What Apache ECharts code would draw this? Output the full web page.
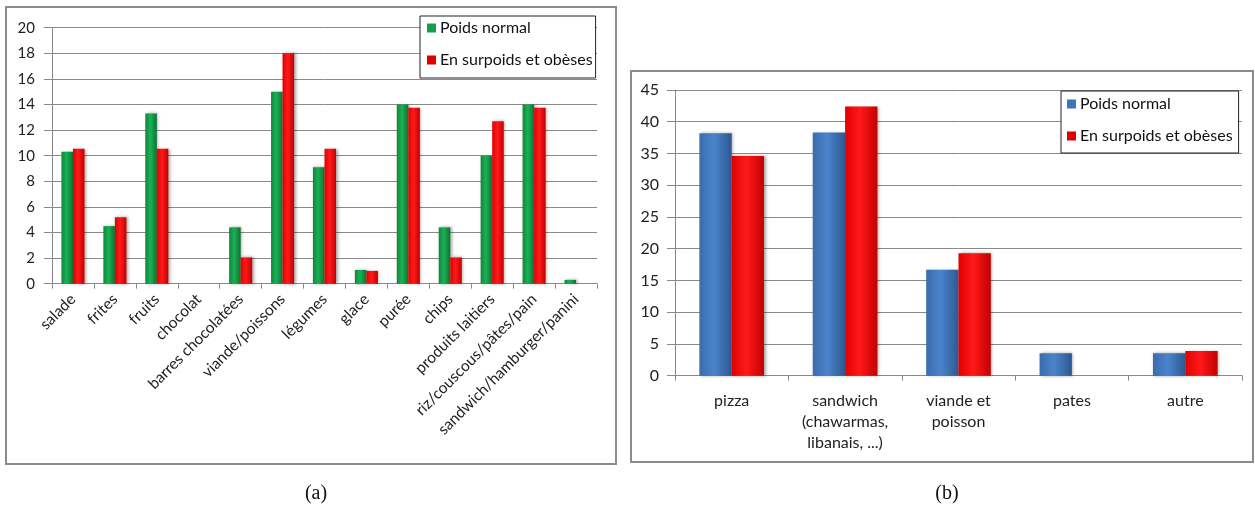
<!DOCTYPE html>
<html><head><meta charset="utf-8">
<script src="https://cdn.jsdelivr.net/npm/echarts@6/dist/echarts.min.js"></script>
<style>html,body{margin:0;padding:0;background:#fff;width:1255px;height:511px;overflow:hidden}
#a{position:absolute;left:0;top:0;width:625px;height:511px}
#b{position:absolute;left:625px;top:0;width:630px;height:511px}</style>
</head><body><div id="a"></div><div id="b"></div>
<script>
// ---- Chart (a) data ----
const catsA = ['salade','frites','fruits','chocolat','barres chocolatées','viande/poissons','légumes','glace','purée','chips','produits laitiers','riz/couscous/pâtes/pain','sandwich/hamburger/panini'];
const normalA = [10.3, 4.5, 13.3, 0, 4.4, 15.0, 9.1, 1.07, 14.0, 4.4, 10.0, 14.0, 0.3];
const surpoidsA = [10.55, 5.2, 10.55, 0, 2.05, 18.0, 10.55, 1.0, 13.75, 2.05, 12.7, 13.75, 0];
const ticksA = {min: 0, max: 20, interval: 2};
// ---- Chart (b) data ----
const catsB = ['pizza','sandwich\n(chawarmas,\nlibanais, ...)','viande et\npoisson','pates','autre'];
const normalB = [38.2, 38.3, 16.7, 3.55, 3.55];
const surpoidsB = [34.6, 42.4, 19.3, 0, 3.9];
const ticksB = {min: 0, max: 45, interval: 5};
const seriesNames = ['Poids normal','En surpoids et obèses'];

const FONT = 'Lato';
function grad(c1, c2, c3){
  return new echarts.graphic.LinearGradient(0,0,1,0,[{offset:0,color:c1},{offset:0.45,color:c2},{offset:1,color:c3}]);
}
const green = grad('#0c8a3a','#1bb055','#0a7330');
const red = grad('#e00000','#ff1a1a','#c40000');
const blue = grad('#3a6cad','#4a84cc','#2d5891');
const shadow = {shadowBlur:3, shadowColor:'rgba(0,0,0,0.35)', shadowOffsetX:1.5, shadowOffsetY:0};

function makeOption(cfg){
  return {
    animation:false,
    textStyle:{fontFamily:FONT},
    graphic:[
      {type:'rect', z:-10, shape:cfg.border, style:{fill:'none', stroke:'#8c8c8c', lineWidth:2}},
      {type:'text', x:cfg.cap[0], y:cfg.cap[1], style:{text:cfg.capText, fill:'#111', font:'20px "Liberation Serif"', textAlign:'center', textVerticalAlign:'middle'}}
    ],
    legend:{
      orient:'vertical', left:cfg.legend.left, top:cfg.legend.top,
      data:[{name:seriesNames[0], itemStyle:{color:cfg.c1solid}},{name:seriesNames[1], itemStyle:{color:'#e00000'}}],
      backgroundColor:'#fff', borderColor:'#222', borderWidth:1,
      padding:cfg.legend.padding, itemGap:16, itemWidth:9, itemHeight:9, icon:'rect',
      textStyle:{fontFamily:FONT, fontSize:16, color:'#111', lineHeight:16, padding:[0,0,0,-1]},
      selectedMode:false
    },
    grid:cfg.grid,
    xAxis:{type:'category', data:cfg.cats,
      axisLine:{lineStyle:{color:'#8a8a8a', width:1}},
      axisTick:{show:true, length:5, lineStyle:{color:'#8a8a8a'}},
      axisLabel:cfg.xLabel},
    yAxis:{type:'value', min:cfg.ticks.min, max:cfg.ticks.max, interval:cfg.ticks.interval,
      axisLine:{show:true, lineStyle:{color:'#8a8a8a'}},
      axisTick:{show:true, length:8, lineStyle:{color:'#8a8a8a'}},
      splitLine:{lineStyle:{color:'#8a8a8a', width:1}},
      axisLabel:{fontFamily:FONT, fontSize:cfg.yFont, color:'#222', margin:cfg.yMargin}},
    series:[
      {name:seriesNames[0], type:'bar', data:cfg.d1, barGap:'0%', barCategoryGap:cfg.gap, itemStyle:Object.assign({color:cfg.c1}, shadow)},
      {name:seriesNames[1], type:'bar', data:cfg.d2, barGap:'0%', barCategoryGap:cfg.gap, itemStyle:Object.assign({color:red}, shadow)}
    ]
  };
}

const chartA = echarts.init(document.getElementById('a'));
chartA.setOption(makeOption({
  border:{x:6, y:7, width:610, height:457},
  cap:[316, 494], capText:'(a)',
  legend:{left:420, top:16, padding:[4,3,10,7]},
  c1solid:'#14a04a',
  grid:{left:52, right:28, top:27.7, bottom:227.3, containLabel:false},
  cats:catsA,
  xLabel:{interval:0, rotate:45, fontFamily:FONT, fontSize:15.5, color:'#222', margin:13},
  ticks:ticksA, yFont:15, yMargin:17,
  d1:normalA, d2:surpoidsA, c1:green, gap:'45%'
}));

const chartB = echarts.init(document.getElementById('b'));
chartB.setOption(makeOption({
  border:{x:6, y:71, width:622, height:391},
  cap:[322, 494], capText:'(b)',
  legend:{left:436, top:91, padding:[5,6,9,6]},
  c1solid:'#3f74b8',
  grid:{left:50, right:13, top:90, bottom:135.3, containLabel:false},
  cats:catsB,
  xLabel:{interval:0, fontFamily:FONT, fontSize:16, color:'#222', margin:15, lineHeight:21},
  ticks:ticksB, yFont:16, yMargin:16,
  d1:normalB, d2:surpoidsB, c1:blue, gap:'43%'
}));
</script></body></html>
